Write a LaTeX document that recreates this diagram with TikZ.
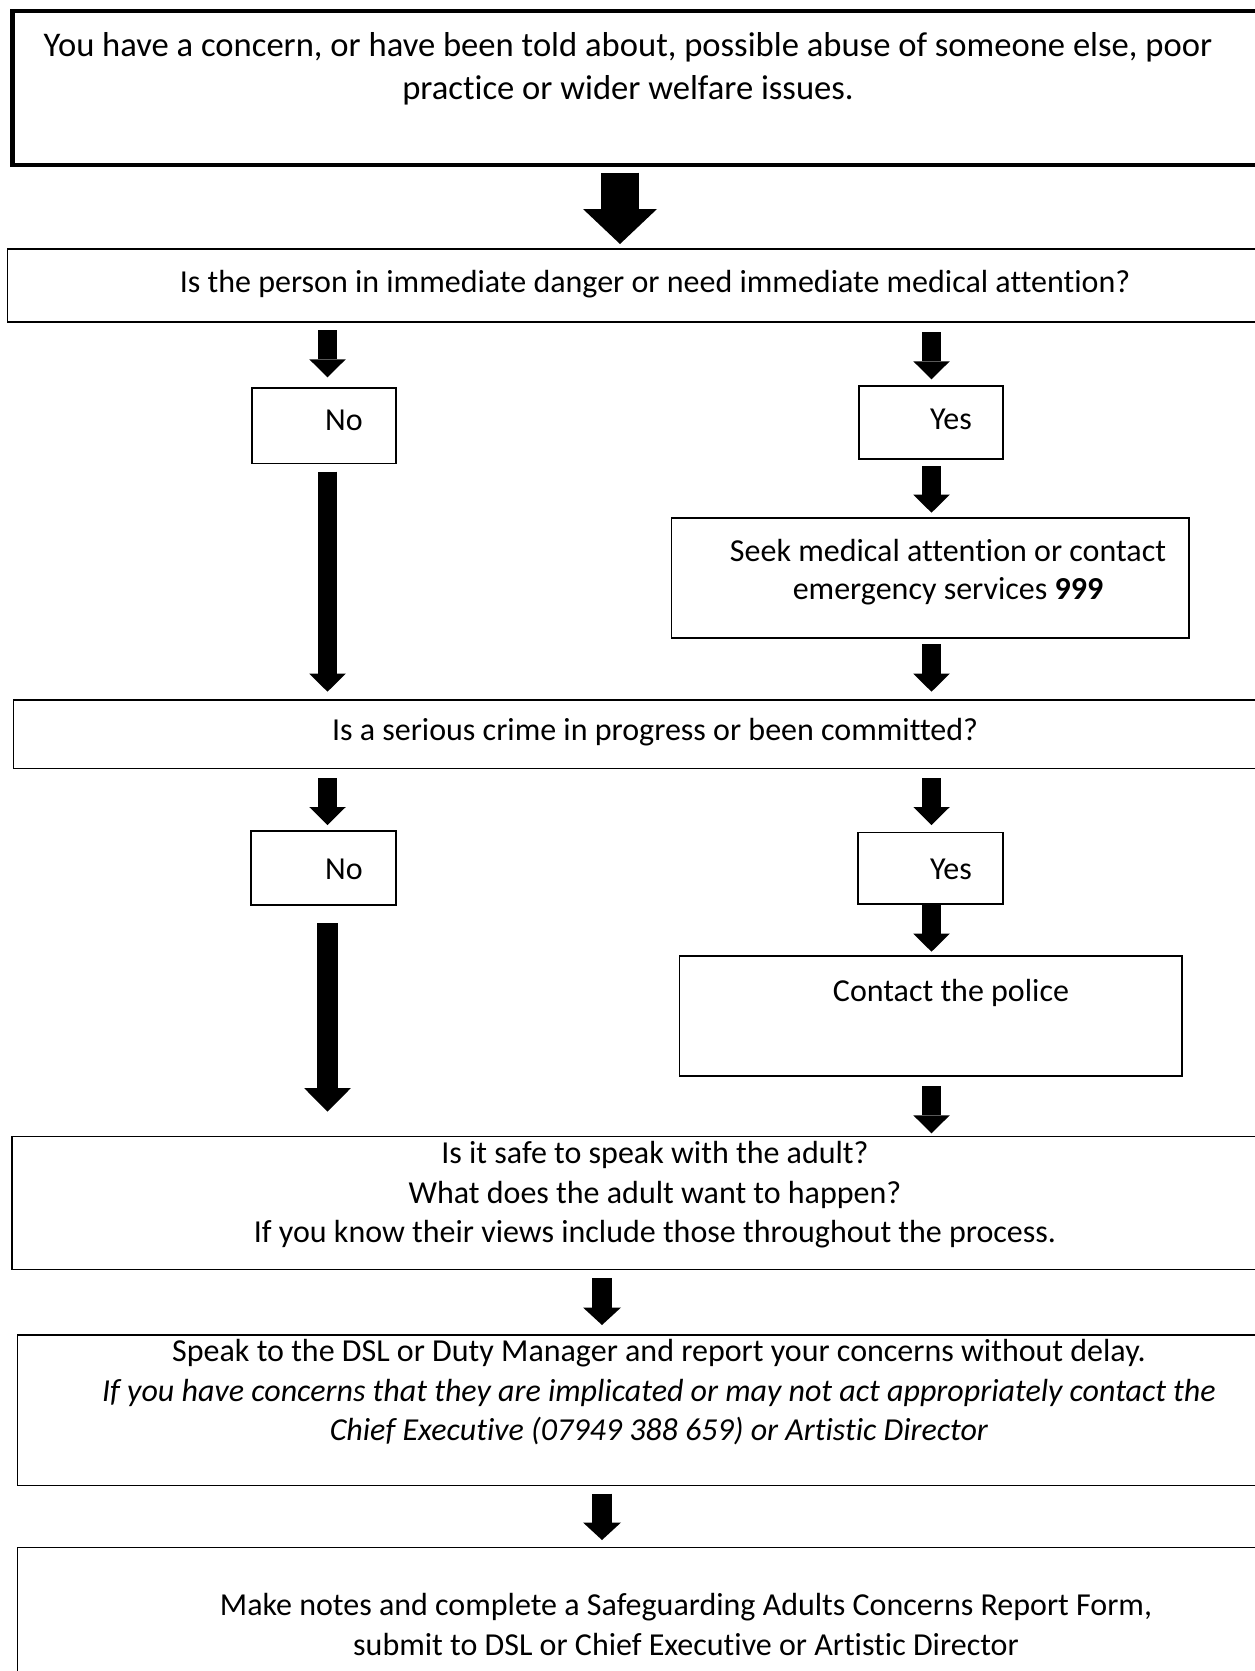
\documentclass[tikz,border=0pt]{standalone}
\usepackage{fontspec}
\setmainfont{Carlito}[Ligatures=NoCommon]
\usetikzlibrary{arrows.meta,calc}
\begin{document}
\begin{tikzpicture}[x=1pt,y=-1pt,
  box/.style={draw=black, line width=1.6pt, fill=white, inner sep=0pt, outer sep=0pt, anchor=north west},
  txt/.style={font=\fontsize{32}{39.5}\selectfont, align=center, inner sep=0pt},
  sarr/.style={line width=19pt, -{Triangle[length=18pt,width=36.5pt,line width=0pt]}},
  larr/.style={line width=21.5pt, -{Triangle[length=23.5pt,width=46.5pt,line width=0pt]}},
  barr/.style={line width=37.5pt, -{Triangle[length=35pt,width=74pt,line width=0pt]}},
  darr/.style={line width=20pt, -{Triangle[length=17.5pt,width=38pt,line width=0pt]}}]
\useasboundingbox (0,0) rectangle (1255,1671);
\clip (0,0) rectangle (1255,1671);
\fill[white] (0,0) rectangle (1255,1671);
% arrow columns
\coordinate (cA) at (620,0);
\coordinate (cL) at (327.5,0);
\coordinate (cR) at (931.5,0);
\coordinate (cD) at (602,0);
% boxes
\node[box, line width=4.5pt, minimum width=1290-12.5, minimum height=154] (b1) at (12.5,11) {};
\node[box, minimum width=1290-7.5, minimum height=72.7] (b2) at (7.5,249) {};
\node[box, minimum width=144.3, minimum height=75.6] (no1) at (251.7,387.7) {};
\node[box, minimum width=143.7, minimum height=73.3] (yes1) at (859,385.7) {};
\node[box, minimum width=517.6, minimum height=120] (seek) at (671.4,517.7) {};
\node[box, minimum width=1290-13.6, minimum height=68.3] (b3) at (13.6,700) {};
\node[box, minimum width=145.3, minimum height=74.3] (no2) at (250.7,830.7) {};
\node[box, minimum width=145, minimum height=71.7] (yes2) at (857.7,832.3) {};
\node[box, minimum width=502.6, minimum height=120] (police) at (679.4,956) {};
\node[box, minimum width=1290-12, minimum height=132.9] (b5) at (12,1136.4) {};
\node[box, minimum width=1290-17.6, minimum height=150.5] (b6) at (17.6,1335) {};
\node[box, minimum width=1290-17.6, minimum height=200] (b7) at (17.6,1547.5) {};
% texts
\node[txt, font=\fontsize{34.6}{42.7}\selectfont] (t1) at (628,69) {You have a concern, or have been told about, possible abuse of someone else, poor\\practice or wider welfare issues.};
\node[txt] (t2) at (655,284) {Is the person in immediate danger or need immediate medical attention?};
\node[txt] (tno1) at (344,420) {No};
\node[txt] (tyes1) at (951,419.5) {Yes};
\node[txt, font=\fontsize{32}{38.3}\selectfont] (tseek) at (948,572) {Seek medical attention or contact\\emergency services \textbf{999}};
\node[txt] (t3) at (655,732) {Is a serious crime in progress or been committed?};
\node[txt] (tno2) at (344,869) {No};
\node[txt] (tyes2) at (951,869) {Yes};
\node[txt] (tpol) at (951,992.5) {Contact the police};
\node[txt] (t5) at (655,1195) {Is it safe to speak with the adult?\\What does the adult want to happen?\\If you know their views include those throughout the process.};
\node[txt] (t6) at (659,1392.5) {Speak to the DSL or Duty Manager and report your concerns without delay.\\\textit{If you have concerns that they are implicated or may not act appropriately contact the}\\\textit{Chief Executive (07949 388 659) or Artistic Director}};
\node[txt, font=\fontsize{32}{40}\selectfont] (t7) at (686,1624) {Make notes and complete a Safeguarding Adults Concerns Report Form,\\submit to DSL or Chief Executive or Artistic Director};
% arrows
\draw[barr] ($(b1.south -| cA)+(0,7.7)$) -- ($(b2.north -| cA)+(0,-5)$);
\draw[sarr] ($(b2.south -| cL)+(0,8.3)$) -- ($(no1.north -| cL)+(0,-10.4)$);
\draw[sarr] ($(b2.south -| cR)+(0,10.6)$) -- ($(yes1.north -| cR)+(0,-6.4)$);
\draw[sarr] ($(no1.south -| cL)+(0,8.4)$) -- ($(b3.north -| cL)+(0,-8.3)$);
\draw[sarr] ($(yes1.south -| cR)+(0,7)$) -- ($(seek.north -| cR)+(0,-5)$);
\draw[sarr] ($(seek.south -| cR)+(0,6.3)$) -- ($(b3.north -| cR)+(0,-8.3)$);
\draw[sarr] ($(b3.south -| cL)+(0,10)$) -- ($(no2.north -| cL)+(0,-5.7)$);
\draw[sarr] ($(b3.south -| cR)+(0,10)$) -- ($(yes2.north -| cR)+(0,-7.3)$);
\draw[larr] ($(no2.south -| cL)+(0,18.3)$) -- ($(b5.north -| cL)+(0,-24.7)$);
\draw[sarr] ($(yes2.south -| cR)+(0,0.8)$) -- ($(police.north -| cR)+(0,-4.3)$);
\draw[sarr] ($(police.south -| cR)+(0,10)$) -- ($(b5.north -| cR)+(0,-3.1)$);
\draw[darr] ($(b5.south -| cD)+(0,9)$) -- ($(b6.north -| cD)+(0,-10)$);
\draw[darr] ($(b6.south -| cD)+(0,8)$) -- ($(b7.north -| cD)+(0,-7.5)$);
\end{tikzpicture}
\end{document}
